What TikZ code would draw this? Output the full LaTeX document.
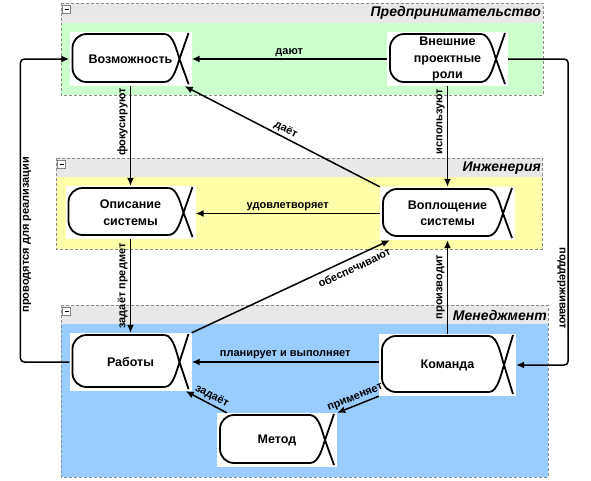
\documentclass[tikz,border=0pt]{standalone}
\usepackage{fontspec}
\setmainfont{Liberation Sans}
\usetikzlibrary{arrows.meta,calc}
\definecolor{entgreen}{RGB}{204,255,204}
\definecolor{engyellow}{RGB}{255,255,170}
\definecolor{mgmtblue}{RGB}{153,204,255}
\definecolor{headgray}{RGB}{232,232,232}
\begin{document}
\begin{tikzpicture}[x=1pt,y=-1pt,
    lanebox/.style={draw=black!45, densely dashed, line width=0.6pt},
    lanetitle/.style={anchor=east, inner sep=0pt, font=\bfseries\itshape\fontsize{14}{16}\selectfont},
    flow/.style={line width=1.5pt, -{Latex[length=8pt,width=7pt]}},
    lbl/.style={font=\bfseries\fontsize{11}{13}\selectfont, inner sep=2pt},
    actor/.style={fill=white, inner sep=0pt, align=center,
      font=\bfseries\fontsize{12.5}{16.5}\selectfont,
      path picture={
        \draw[line width=1.8pt, rounded corners=14pt]
          let \p1=(path picture bounding box.south west),
              \p2=(path picture bounding box.north east) in
          (\x2-27pt,\y2-2pt) -- (\x1+3pt,\y2-2pt) -- (\x1+3pt,\y1+4pt) -- (\x2-27pt,\y1+4pt);
        \draw[line width=1.8pt]
          let \p1=(path picture bounding box.south west),
              \p2=(path picture bounding box.north east),
              \p3=($(\p1)!0.5!(\p2)$) in
          (\x2-27pt,\y2-2pt) .. controls (\x2-18pt,\y2-2pt) and (\x2-14.5pt,\y3+7pt) .. (\x2-12pt,\y3) -- (\x2-3pt,\y1+2pt)
          (\x2-27pt,\y1+4pt) .. controls (\x2-18pt,\y1+4pt) and (\x2-14.5pt,\y3-7pt) .. (\x2-12pt,\y3) -- (\x2-3pt,\y2-1pt);
      }}]
  \useasboundingbox (0,0) rectangle (591,480);
  % lanes
  \fill[headgray] (61,3) rectangle (543,23);
  \fill[entgreen] (61,23) rectangle (543,95);
  \draw[lanebox] (61,3) rectangle (543,95);
  \fill[headgray] (56,158) rectangle (542,177);
  \fill[engyellow] (56,177) rectangle (542,249);
  \draw[lanebox] (56,158) rectangle (542,249);
  \fill[headgray] (61,305) rectangle (548,324);
  \fill[mgmtblue] (61,324) rectangle (548,477);
  \draw[lanebox] (61,305) rectangle (548,477);
  \foreach \lx/\ly in {61/3, 56/158, 61/305} {
    \draw[black!50, fill=white, line width=0.5pt] (\lx+1.5,\ly+2) rectangle (\lx+9.5,\ly+10);
    \draw[line width=0.8pt] (\lx+3.5,\ly+6) -- (\lx+7.5,\ly+6);
  }
  \node[lanetitle] (enttitle) at (541,13) {Предпринимательство};
  \node[lanetitle] (engtitle) at (541,168) {Инженерия};
  \node[lanetitle] (mgmttitle) at (547,315) {Менеджмент};
  % actors
  \node[actor, minimum width=122pt, minimum height=54pt] (poss) at (130.5,59) {Возможность};
  \node[actor, minimum width=121pt, minimum height=54pt] (roles) at (447.5,59) {Внешние\\проектные\\роли};
  \node[actor, minimum width=130pt, minimum height=53pt] (desc) at (130.5,212.5) {Описание\\системы};
  \node[actor, minimum width=135pt, minimum height=53pt] (impl) at (447.5,213.5) {Воплощение\\системы};
  \node[actor, minimum width=122pt, minimum height=58pt] (works) at (130.5,362) {Работы};
  \node[actor, minimum width=137pt, minimum height=62pt] (team) at (447.5,365) {Команда};
  \node[actor, minimum width=120pt, minimum height=54pt] (method) at (277,440) {Метод};
  % connectors
  \draw[flow] (roles.west) -- (poss.east) node[lbl, midway, above] {дают};
  \draw[flow] (poss.south) -- (desc.north) node[lbl, pos=0.36, rotate=90, anchor=south] {фокусируют};
  \draw[flow] (roles.south) -- (impl.north) node[lbl, pos=0.35, rotate=90, anchor=south] {используют};
  \draw[flow] (impl.north west) -- ([xshift=-7pt]poss.south east) node[lbl, midway, sloped, above] {даёт};
  \draw[flow] (impl.west) -- (impl.west -| desc.east) node[lbl, midway, above] {удовлетворяет};
  \draw[flow] (desc.south) -- (works.north) node[lbl, midway, rotate=90, anchor=south] {задаёт предмет};
  \draw[flow] (works.north east) -- ([xshift=10pt]impl.south west) node[lbl, pos=0.8, sloped, below, inner sep=5pt] {обеспечивают};
  \draw[flow] (team.north) -- (impl.south) node[lbl, midway, rotate=90, anchor=south] {производит};
  \draw[flow] (works.east -| team.west) -- (works.east) node[lbl, midway, above] {планирует и выполняет};
  \draw[flow] (team.south west) -- (method.north east) node[lbl, midway, sloped, above] {применяет};
  \draw[flow] ([xshift=10pt]method.north west) -- ([xshift=-6pt]works.south east) node[lbl, pos=0.45, sloped, above] {задаёт};
  \draw[flow, rounded corners=4pt] (works.west) -| ([xshift=-49pt]poss.west)
    node[lbl, pos=0.71, rotate=90, anchor=north] {проводятся для реализации} -- (poss.west);
  \draw[flow, rounded corners=4pt] (roles.east) -| ([xshift=52pt]team.east)
    node[lbl, pos=0.875, rotate=-90, anchor=north] {поддерживают} -- (team.east);
\end{tikzpicture}
\end{document}
